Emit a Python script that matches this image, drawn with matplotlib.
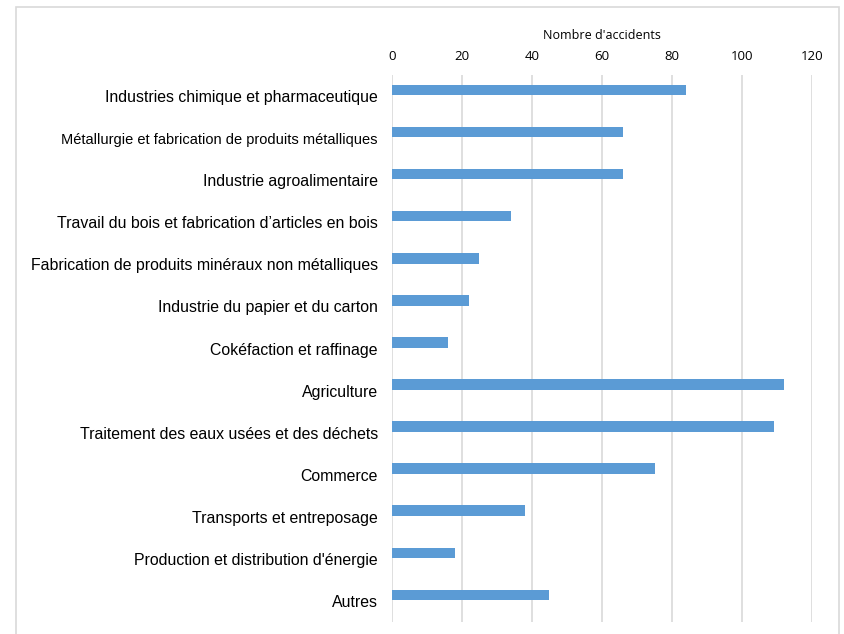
import matplotlib
matplotlib.use("Agg")
import matplotlib.pyplot as plt
from matplotlib.patches import Rectangle

# données
categories = [
    "Industries chimique et pharmaceutique",
    "Métallurgie et fabrication de produits métalliques",
    "Industrie agroalimentaire",
    "Travail du bois et fabrication d\u2019articles en bois",
    "Fabrication de produits minéraux non métalliques",
    "Industrie du papier et du carton",
    "Cokéfaction et raffinage",
    "Agriculture",
    "Traitement des eaux usées et des déchets",
    "Commerce",
    "Transports et entreposage",
    "Production et distribution d'énergie",
    "Autres",
]
accidents = [84, 66, 66, 34, 25, 22, 16, 112, 109, 75, 38, 18, 45]
xticks = [0, 20, 40, 60, 80, 100, 120]
xlabel = "Nombre d'accidents"

W, H = 845, 634
fig = plt.figure(figsize=(W / 100, H / 100), dpi=100)

# cadre extérieur du graphique
fig.patches.append(Rectangle((16.5 / W, -0.05), (839 - 16.5) / W, 1.05 - 6.7 / H,
                             transform=fig.transFigure, fill=False,
                             edgecolor="#d9d9d9", linewidth=1.2))

left, right = 391.7 / W, 812.3 / W
top, bottom = 75 / H, 622 / H
ax = fig.add_axes([left, 1 - bottom, right - left, bottom - top])

ypos = list(range(len(categories)))
# barres légèrement décalées vers le haut dans chaque catégorie (comme Excel)
ax.barh([y - 0.145 for y in ypos], accidents, height=0.25, color="#5b9bd5", zorder=3)

ax.set_xlim(0, 120)
ax.set_ylim(len(categories) - 0.5, -0.5)
ax.set_xticks(xticks)
ax.xaxis.tick_top()
ax.xaxis.set_label_position("top")
ax.tick_params(axis="x", length=0, pad=8.5, labelsize=9.5, labelcolor="#000000")
for t in ax.get_xticklabels():
    t.set_fontfamily("Open Sans")
ax.set_xlabel(xlabel, fontsize=9, family="Open Sans", labelpad=8)

ax.set_yticks(ypos)
ax.set_yticklabels(categories, fontsize=11.4, family="Liberation Sans")
# le libellé le plus long est resserré dans l'original
ax.get_yticklabels()[1].set_fontsize(10.5)
ax.tick_params(axis="y", length=0, pad=10)

ax.grid(axis="x", color="#d9d9d9", linewidth=1.2, zorder=0)
for s in ax.spines.values():
    s.set_visible(False)

fig.savefig("out.png", dpi=100)
